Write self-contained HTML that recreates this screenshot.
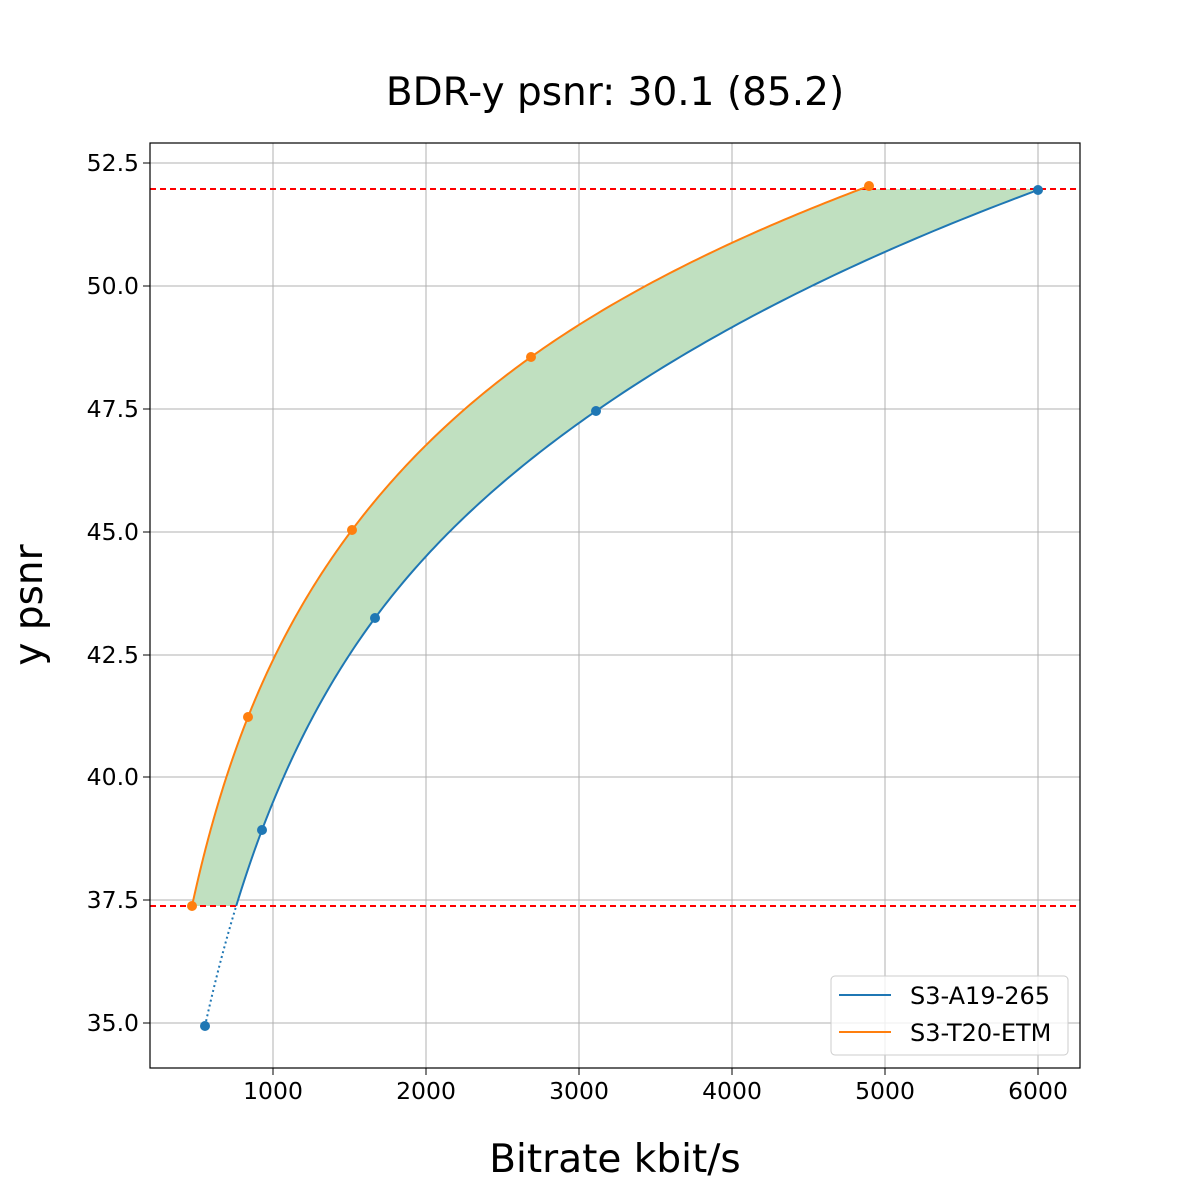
<!DOCTYPE html>
<html><head><meta charset="utf-8"><style>body{margin:0;background:#fff}svg{display:block}text{font-family:"DejaVu Sans","Liberation Sans",sans-serif}</style></head><body>
<svg id="s" width="1200" height="1200" xmlns="http://www.w3.org/2000/svg">
<rect width="1200" height="1200" fill="#fff"/>
<g stroke="#b0b0b0" stroke-width="1">
<line x1="273" y1="143" x2="273" y2="1068"/><line x1="426" y1="143" x2="426" y2="1068"/><line x1="579" y1="143" x2="579" y2="1068"/><line x1="732" y1="143" x2="732" y2="1068"/><line x1="885" y1="143" x2="885" y2="1068"/><line x1="1038" y1="143" x2="1038" y2="1068"/>
<line x1="150" y1="163" x2="1080" y2="163"/><line x1="150" y1="286" x2="1080" y2="286"/><line x1="150" y1="409" x2="1080" y2="409"/><line x1="150" y1="532" x2="1080" y2="532"/><line x1="150" y1="655" x2="1080" y2="655"/><line x1="150" y1="777" x2="1080" y2="777"/><line x1="150" y1="900" x2="1080" y2="900"/><line x1="150" y1="1023" x2="1080" y2="1023"/>
</g>
<path id="fill" d="" fill="#c0e0c0"/>
<line x1="150" y1="189" x2="1080" y2="189" stroke="#f00" stroke-width="2" stroke-dasharray="6,4"/>
<line x1="150" y1="906" x2="1080" y2="906" stroke="#f00" stroke-width="2" stroke-dasharray="6,4"/>
<path id="dot" d="" fill="none" stroke="#1f77b4" stroke-width="2" stroke-dasharray="2,3"/>
<path id="blue" d="" fill="none" stroke="#1f77b4" stroke-width="2"/>
<path id="orange" d="" fill="none" stroke="#ff7f0e" stroke-width="2"/>
<g fill="#1f77b4"><circle cx="205" cy="1026" r="5"/><circle cx="262" cy="830" r="5"/><circle cx="375" cy="618" r="5"/><circle cx="596" cy="411" r="5"/><circle cx="1038" cy="190" r="5"/></g>
<g fill="#ff7f0e"><circle cx="192" cy="906" r="5"/><circle cx="248" cy="717" r="5"/><circle cx="352" cy="530" r="5"/><circle cx="531" cy="357" r="5"/><circle cx="869" cy="186" r="5"/></g>
<rect x="150" y="143" width="930" height="925" fill="none" stroke="#000" stroke-width="1.2"/>
<g stroke="#000"><line x1="273" y1="1068" x2="273" y2="1075"/><line x1="426" y1="1068" x2="426" y2="1075"/><line x1="579" y1="1068" x2="579" y2="1075"/><line x1="732" y1="1068" x2="732" y2="1075"/><line x1="885" y1="1068" x2="885" y2="1075"/><line x1="1038" y1="1068" x2="1038" y2="1075"/>
<line x1="143" y1="163" x2="150" y2="163"/><line x1="143" y1="286" x2="150" y2="286"/><line x1="143" y1="409" x2="150" y2="409"/><line x1="143" y1="532" x2="150" y2="532"/><line x1="143" y1="655" x2="150" y2="655"/><line x1="143" y1="777" x2="150" y2="777"/><line x1="143" y1="900" x2="150" y2="900"/><line x1="143" y1="1023" x2="150" y2="1023"/></g>
<g font-size="23.5" text-anchor="middle"><text x="273" y="1099">1000</text><text x="426" y="1099">2000</text><text x="579" y="1099">3000</text><text x="732" y="1099">4000</text><text x="885" y="1099">5000</text><text x="1038" y="1099">6000</text></g>
<g font-size="23.5" text-anchor="end"><text x="139" y="171">52.5</text><text x="139" y="294">50.0</text><text x="139" y="417">47.5</text><text x="139" y="540">45.0</text><text x="139" y="663">42.5</text><text x="139" y="785">40.0</text><text x="139" y="908">37.5</text><text x="139" y="1031">35.0</text></g>
<text x="615" y="105" font-size="39" text-anchor="middle">BDR-y psnr: 30.1 (85.2)</text>
<text x="615" y="1172" font-size="39" text-anchor="middle">Bitrate kbit/s</text>
<text transform="translate(42,605) rotate(-90)" font-size="39" text-anchor="middle">y psnr</text>
<rect x="831" y="976" width="237" height="79" rx="4" fill="#fff" fill-opacity="0.8" stroke="#ccc"/>
<line x1="839" y1="995" x2="891" y2="995" stroke="#1f77b4" stroke-width="2"/>
<line x1="839" y1="1032" x2="891" y2="1032" stroke="#ff7f0e" stroke-width="2"/>
<text x="910" y="1004" font-size="24">S3-A19-265</text>
<text x="910" y="1041" font-size="24">S3-T20-ETM</text>
</svg>
<script>
function val(px){return 1000+(px-273)/0.153;}
function toPx(v){return 273+(v-1000)*0.153;}
function spline(P){ // P: [[px,py]] ; natural cubic spline in log(value) domain
  var n=P.length,x=P.map(function(p){return Math.log(val(p[0]));}),y=P.map(function(p){return p[1];});
  var h=[],i;for(i=0;i<n-1;i++)h.push(x[i+1]-x[i]);
  var a=new Array(n).fill(0),b=new Array(n).fill(1),c=new Array(n).fill(0),d=new Array(n).fill(0);
  for(i=1;i<n-1;i++){a[i]=h[i-1];b[i]=2*(h[i-1]+h[i]);c[i]=h[i];d[i]=6*((y[i+1]-y[i])/h[i]-(y[i]-y[i-1])/h[i-1]);}
  for(i=1;i<n;i++){var m=a[i]/b[i-1];b[i]-=m*c[i-1];d[i]-=m*d[i-1];}
  var M=new Array(n);M[n-1]=d[n-1]/b[n-1];for(i=n-2;i>=0;i--)M[i]=(d[i]-c[i]*M[i+1])/b[i];
  var pts=[];
  for(i=0;i<n-1;i++){for(var k=0;k<60;k++){var t=x[i]+h[i]*k/60,A=(x[i+1]-t)/h[i],B=(t-x[i])/h[i];
    var yy=A*y[i]+B*y[i+1]+((A*A*A-A)*M[i]+(B*B*B-B)*M[i+1])*h[i]*h[i]/6;pts.push([toPx(Math.exp(t)),yy]);}}
  pts.push([P[n-1][0],P[n-1][1]]);return pts;}
function pd(p){return p.map(function(q,i){return (i?"L":"M")+q[0].toFixed(2)+","+q[1].toFixed(2);}).join(" ");}
var O=spline([[192,906],[248,717],[352,530],[531,357],[869,186]]);
var Ball=spline([[205,1026],[262,830],[375,618],[596,411],[1038,190]]);
var dot=[],sol=[];Ball.forEach(function(q){if(q[1]>906)dot.push(q);else sol.push(q);});
if(dot.length){var l=dot[dot.length-1],f=sol[0],t=(906-l[1])/(f[1]-l[1]),cp=[l[0]+t*(f[0]-l[0]),906];dot.push(cp);sol.unshift(cp);}
document.getElementById("orange").setAttribute("d",pd(O));
document.getElementById("blue").setAttribute("d",pd(sol));
document.getElementById("dot").setAttribute("d",pd(dot));
var fp=O.concat([[869,189],[1038,189]]).concat(sol.slice().reverse());
document.getElementById("fill").setAttribute("d",pd(fp)+" Z");
</script>
</body></html>
